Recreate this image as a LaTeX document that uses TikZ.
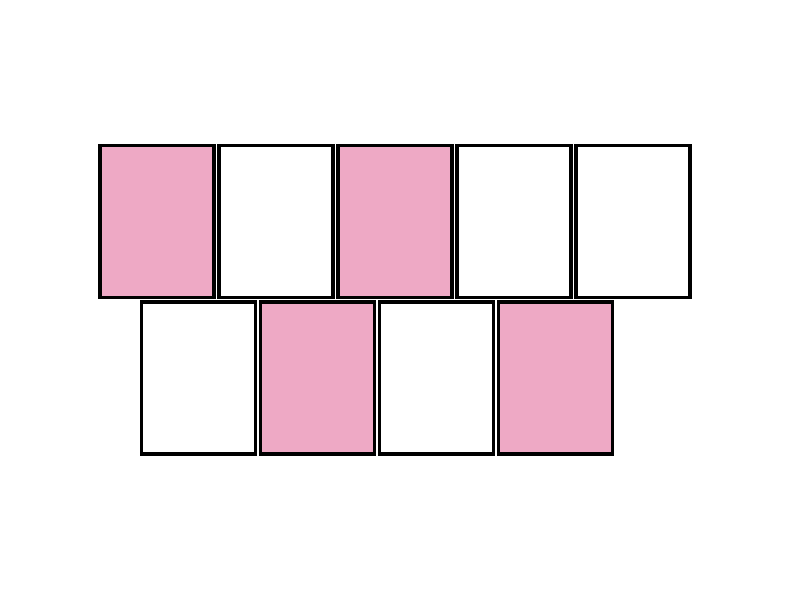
\documentclass[tikz,border=0pt]{standalone}
\definecolor{cardpink}{RGB}{238,169,197}
\begin{document}
\begin{tikzpicture}[x=1pt,y=-1pt,
  card/.style={draw=black,line width=3.3pt,minimum width=114pt,minimum height=152pt,inner sep=0pt,outer sep=0pt,anchor=north west},
  pinkcard/.style={card,fill=cardpink},
  whitecard/.style={card,fill=white}]
\useasboundingbox (0,0) rectangle (800,600);
\node[pinkcard]  (t1) at (100,145.5) {};
\node[whitecard] (t2) at (219,145.5) {};
\node[pinkcard]  (t3) at (338,145.5) {};
\node[whitecard] (t4) at (457,145.5) {};
\node[whitecard] (t5) at (576,145.5) {};
\node[whitecard] (b1) at (141.5,302) {};
\node[pinkcard]  (b2) at (260.5,302) {};
\node[whitecard] (b3) at (379.5,302) {};
\node[pinkcard]  (b4) at (498.5,302) {};
\end{tikzpicture}
\end{document}
